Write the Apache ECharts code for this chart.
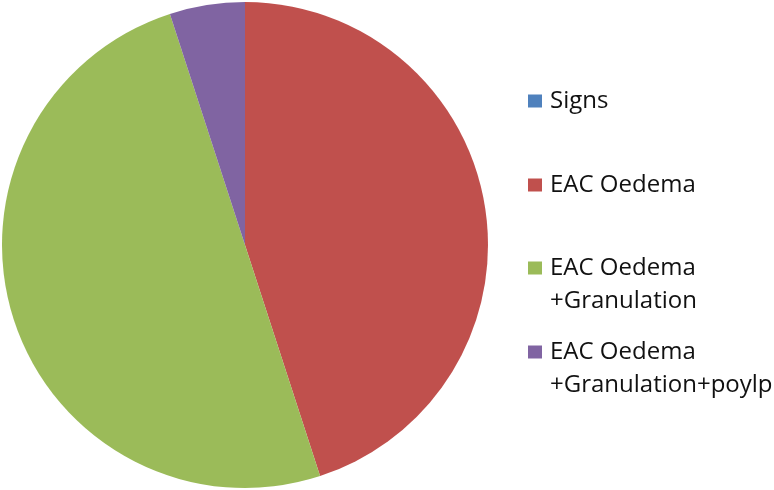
<!DOCTYPE html>
<html>
<head>
<meta charset="utf-8">
<script src="https://cdn.jsdelivr.net/npm/echarts@6/dist/echarts.min.js"></script>
<style>
html,body{margin:0;padding:0;background:#fff;}
#chart{width:774px;height:490px;}
</style>
</head>
<body>
<div id="chart"></div>
<script>
var categories = ['Signs', 'EAC Oedema', 'EAC Oedema\n+Granulation', 'EAC Oedema\n+Granulation+poylp'];
var values = [0, 9, 10, 1];
var colors = ['#4F81BD', '#C0504D', '#9BBB59', '#8064A2'];

var chart = echarts.init(document.getElementById('chart'), null, {renderer: 'canvas'});
var FONT = '"Open Sans"';
var FS = 24;
var LH = 33;
var legendCenters = [101, 185, 268, 352];

var legends = categories.map(function (name, i) {
  var twoLine = name.indexOf('\n') >= 0;
  return {
    show: true,
    orient: 'vertical',
    left: 528,
    top: twoLine ? legendCenters[i] - 1.5 * LH : legendCenters[i] - LH / 2,
    padding: 0,
    itemWidth: 14,
    itemHeight: 13,
    icon: 'rect',
    selectedMode: false,
    data: [name],
    formatter: function (n) {
      return n.indexOf('\n') >= 0 ? ' \n' + n : n;
    },
    textStyle: {
      fontFamily: FONT,
      fontSize: FS,
      lineHeight: LH,
      color: '#111',
      padding: [0, 0, 0, 3]
    }
  };
});

chart.setOption({
  animation: false,
  color: colors,
  legend: legends,
  series: [{
    type: 'pie',
    center: [245, 245],
    radius: 243,
    startAngle: 90,
    clockwise: true,
    label: {show: false},
    labelLine: {show: false},
    emphasis: {disabled: true},
    itemStyle: {borderWidth: 0},
    data: categories.map(function (c, i) {
      return {name: c, value: values[i]};
    })
  }]
});
</script>
</body>
</html>
